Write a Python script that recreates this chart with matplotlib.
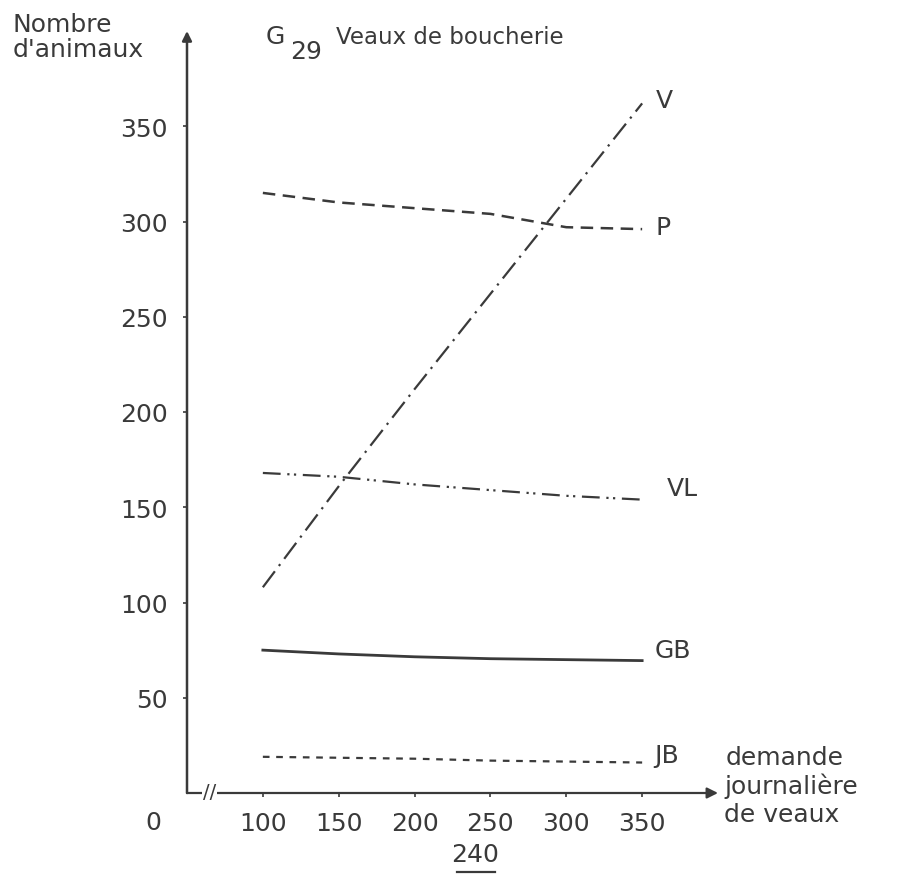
import matplotlib
matplotlib.use('Agg')
import matplotlib.pyplot as plt

# daily calf demand (x) and number of animals per category (y)
demande = [100, 150, 200, 250, 300, 350]
v_vals = [108, 161, 212, 262, 312, 362]
p_vals = [315, 310, 307, 304, 297, 296]
vl_vals = [168, 166, 162, 159, 156, 154]
gb_vals = [75, 73, 71.5, 70.5, 70, 69.5]
jb_vals = [19, 18.5, 18, 17, 16.5, 16]

y_ticks = [50, 100, 150, 200, 250, 300, 350]
x_ticks = [100, 150, 200, 250, 300, 350]

ink = '#3a3a3a'
plt.rcParams['font.family'] = ['DejaVu Sans']

fig = plt.figure(figsize=(9.2, 8.78), dpi=100)
ax = fig.add_axes([187 / 920, 84 / 878, 531 / 920, 762 / 878])
ax.set_xlim(50, 400)
ax.set_ylim(0, 400)

for s in ax.spines.values():
    s.set_visible(False)

# axes drawn as arrows
ax.annotate('', xy=(1, 0), xytext=(0, 0), xycoords='axes fraction',
            arrowprops=dict(arrowstyle='-|>', color=ink, lw=1.6, mutation_scale=16,
                            shrinkA=0, shrinkB=0))
ax.annotate('', xy=(0, 1), xytext=(0, 0), xycoords='axes fraction',
            arrowprops=dict(arrowstyle='-|>', color=ink, lw=1.8, mutation_scale=14,
                            shrinkA=0, shrinkB=0))

ax.set_yticks(y_ticks)
ax.set_yticklabels([str(t) for t in y_ticks])
ax.set_xticks(x_ticks)
ax.set_xticklabels([str(t) for t in x_ticks])
ax.tick_params(axis='both', colors=ink, labelcolor=ink, labelsize=18,
               length=3, width=1.2, direction='out')
ax.tick_params(axis='y', pad=11)
ax.tick_params(axis='x', pad=10)

# series
ax.plot(demande, v_vals, color=ink, lw=1.6, ls=(0, (9, 3, 1, 3)))
ax.plot(demande, p_vals, color=ink, lw=1.8, ls=(0, (5, 3)))
ax.plot(demande, vl_vals, color=ink, lw=1.6, ls=(0, (8, 3, 1, 2, 1, 3)))
ax.plot(demande, gb_vals, color=ink, lw=2.0)
ax.plot(demande, jb_vals, color=ink, lw=1.6, ls=(0, (3, 3)))

lab = dict(color=ink, fontsize=18, va='center', ha='left', clip_on=False)
ax.text(359, 364, 'V', **lab)
ax.text(359, 297, 'P', **lab)
ax.text(366, 160, 'VL', **lab)
ax.text(358, 75, 'GB', **lab)
ax.text(358, 20, 'JB', **lab)

# axis titles
ax.text(405, 19, 'demande', **lab)
ax.text(404, 4, 'journalière', **lab)
ax.text(404, -11, 'de veaux', **lab)
fig.text(13 / 920, 1 - 32 / 878, 'Nombre', color=ink, fontsize=18, ha='left', va='baseline')
fig.text(13 / 920, 1 - 57 / 878, "d'animaux", color=ink, fontsize=18, ha='left', va='baseline')

# title
fig.text(266 / 920, 1 - 37 / 878, 'G', color=ink, fontsize=18, ha='left', va='center')
fig.text(290 / 920, 1 - 52 / 878, '29', color=ink, fontsize=18, ha='left', va='center')
fig.text(336 / 920, 1 - 37 / 878, 'Veaux de boucherie', color=ink, fontsize=16.5,
         ha='left', va='center')

# origin and axis break
ax.text(28, -15, '0', color=ink, fontsize=18, ha='center', va='center', clip_on=False)
ax.text(65, 1, '//', color=ink, fontsize=14, ha='center', va='center', clip_on=False,
        bbox=dict(facecolor='white', edgecolor='none', pad=0.5))

# page number
ax.text(240, -32, '240', color=ink, fontsize=18, ha='center', va='center', clip_on=False)
ax.plot([228, 253], [-41.5, -41.5], color=ink, lw=1.6, clip_on=False)

fig.savefig('out.png', dpi=100)
